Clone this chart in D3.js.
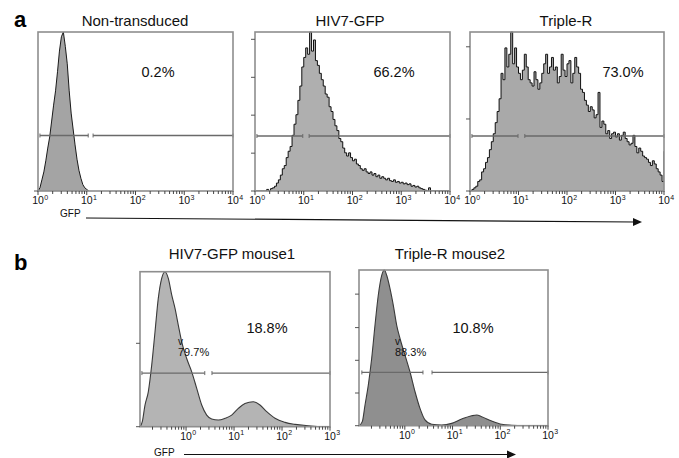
<!DOCTYPE html>
<html><head><meta charset="utf-8">
<script src="https://cdn.jsdelivr.net/npm/d3@7"></script>
<style>body{margin:0;background:#fff}svg{display:block;font-family:"Liberation Sans",Arial,sans-serif}</style>
</head><body><svg id="c" width="679" height="458"></svg>
<script>
// ---------- DATA ----------
const titles = ["Non-transduced", "HIV7-GFP", "Triple-R", "HIV7-GFP mouse1", "Triple-R mouse2"];
const percents = ["0.2%", "66.2%", "73.0%", "18.8%", "10.8%"];
const negPercents = ["79.7%", "88.3%"];
const binWidth = 0.04; // decades per channel (panel a)
const a1Counts = [0,0.02,0.07,0.12,0.19,0.27,0.34,0.44,0.54,0.63,0.75,0.88,0.97,1.0,0.91,0.80,0.63,0.49,0.39,0.29,0.20,0.13,0.08,0.04,0.02,0.01,0];
const a2Counts = [0,0,0,0,0,0, 0.01,0,0.015,0.02,0.03,0.05, 0.07,0.10,0.14,0.16,0.21,0.25, 0.28,0.35,0.42,0.48,0.57,0.66,
  0.78,0.84,0.90,0.86,1.0,0.88, 0.95,0.82,0.79,0.74,0.70,0.66, 0.61,0.59,0.53,0.50,0.45,0.41, 0.38,0.33,0.31,0.27,0.24,0.22,
  0.24,0.21,0.19,0.20,0.17,0.16, 0.14,0.13,0.14,0.12,0.11,0.12, 0.10,0.11,0.09,0.10,0.08,0.09, 0.08,0.07,0.08,0.065,0.06,0.07,
  0.055,0.06,0.05,0.055,0.045,0.05, 0.04,0.045,0.03,0.035,0.025,0.03, 0.02,0.015,0.01,0.005,0,0.02, 0,0,0,0,0,0,0,0,0,0,0];
const a3Counts = [0,0.01,0.02,0.03,0.06,0.07,0.12,0.14,0.18,0.21, 0.26,0.31,0.36,0.43,0.50,0.58,0.74,0.70,0.90,0.78,
  0.86,1.0,0.80,0.90,0.78,0.74,0.70,0.76,0.86,0.78, 0.70,0.68,0.66,0.75,0.70,0.64,0.68,0.74,0.80,0.86,
  0.74,0.78,0.84,0.76,0.78,0.68,0.72,0.86,0.76,0.72, 0.80,0.82,0.68,0.74,0.84,0.78,0.74,0.64,0.62,0.57,
  0.54,0.50,0.53,0.51,0.46,0.48,0.62,0.40,0.44,0.42, 0.36,0.38,0.33,0.36,0.37,0.34,0.36,0.32,0.35,0.37,
  0.33,0.31,0.29,0.30,0.35,0.28,0.24,0.27,0.25,0.22, 0.21,0.20,0.18,0.16,0.19,0.17,0.14,0.12,0.10,0.06, 0.25];
const b1Log = [-0.96,-0.912,-0.856,-0.787,-0.716,-0.647,-0.579,-0.508,-0.439,-0.370,-0.298,-0.23,-0.162,-0.091,0.013,0.118,0.222,0.326,0.43,0.534,0.672,0.812,0.951,1.089,1.228,1.401,1.541,1.681,1.854,2.062,2.271,2.548,2.827,3.0];
const b1Counts = [0,0.032,0.139,0.225,0.397,0.613,0.828,0.957,1.0,0.957,0.849,0.763,0.656,0.548,0.44,0.354,0.247,0.14,0.075,0.05,0.043,0.054,0.075,0.118,0.15,0.161,0.14,0.097,0.054,0.028,0.015,0.006,0,0];
const b2Log = [-0.96,-0.891,-0.834,-0.765,-0.694,-0.625,-0.556,-0.484,-0.43,-0.38,-0.31,-0.241,-0.17,-0.101,0.004,0.109,0.214,0.318,0.423,0.563,0.773,0.982,1.192,1.401,1.506,1.611,1.82,2.03,2.239,2.449,3.0];
const b2Counts = [0,0.026,0.133,0.261,0.433,0.645,0.838,0.966,1.0,0.966,0.88,0.773,0.645,0.56,0.453,0.345,0.218,0.111,0.037,0.009,0.004,0.015,0.043,0.064,0.069,0.058,0.03,0.009,0.003,0,0];
const aDecades = [0, 1, 2, 3, 4];
const bDecades = [0, 1, 2, 3];
const a1YTicks = [0];
const a2YTicks = [0, 0.238, 0.477, 0.715, 0.954];
const a3YTicks = [0, 0.453, 0.907];
const b1YTicks = [0, 0.538];
const b2YTicks = [0, 0.21, 0.42, 0.63, 0.845];
// gates: [left segment, right segment] in log10 units, and gate height
const a1Gate = [[0.04, 1.03], [1.13, 4.0]];
const a2Gate = [[0.04, 0.98], [1.11, 4.0]];
const a3Gate = [[0.04, 0.99], [1.13, 4.0]];
const b1Gate = [[-0.92, 0.39], [0.54, 3.0]];
const b2Gate = [[-0.90, 0.38], [0.57, 3.0]];
const gateLevels = [0.349, 0.346, 0.346, 0.346, 0.342];

// ---------- LAYOUT ----------
const svg = d3.select("#c");
const panels = [
  {x0:38, x1:233, y0:32, y1:191, lo:0, hi:4, log: a1Counts.map((d,i)=>i*binWidth), vals:a1Counts, kind:"lin", fill:"#a4a4a4", stroke:"#1a1a1a", yt:a1YTicks, dec:aDecades, gate:a1Gate, pct:[158,76.5], title:[135,26]},
  {x0:255, x1:450, y0:32, y1:191, lo:0, hi:4, log: a2Counts.map((d,i)=>i*binWidth), vals:a2Counts, kind:"step", fill:"#afafaf", stroke:"#111", yt:a2YTicks, dec:aDecades, gate:a2Gate, pct:[394,76.5], title:[350,26]},
  {x0:470, x1:664, y0:32, y1:191, lo:0, hi:4, log: a3Counts.map((d,i)=>i*binWidth), vals:a3Counts, kind:"step", fill:"#a9a9a9", stroke:"#111", yt:a3YTicks, dec:aDecades, gate:a3Gate, pct:[623,76.5], title:[566,26]},
  {x0:140, x1:330, y0:271.7, y1:426.7, lo:-0.96, hi:3, log:b1Log, vals:b1Counts, kind:"smooth", fill:"#b4b4b4", stroke:"#3a3a3a", yt:b1YTicks, dec:bDecades, gate:b1Gate, pct:[267,332.5], title:[232,258.5], neg:[178,negPercents[0]]},
  {x0:359, x1:548, y0:270, y1:425.7, lo:-0.96, hi:3, log:b2Log, vals:b2Counts, kind:"smooth", fill:"#8f8f8f", stroke:"#3a3a3a", yt:b2YTicks, dec:bDecades, gate:b2Gate, pct:[473,332.5], title:[450,258.5], neg:[395,negPercents[1]]}
];

panels.forEach((p, k) => {
  const x = d3.scaleLog().domain([Math.pow(10,p.lo), Math.pow(10,p.hi)]).range([p.x0, p.x1]);
  const y = d3.scaleLinear().domain([0, 1]).range([p.y1, p.y0]);
  const g = svg.append("g");
  const cid = "clip" + k;
  svg.append("clipPath").attr("id", cid).append("rect")
    .attr("x", p.x0).attr("y", p.y0 - 1).attr("width", p.x1 - p.x0).attr("height", p.y1 - p.y0 + 1);
  const pts = p.log.map((l, i) => [Math.pow(10, l), p.vals[i]]);
  let curve = d3.curveLinear;
  if (p.kind === "step") { curve = d3.curveStepAfter; pts.push([Math.pow(10, p.hi + binWidth), p.vals[p.vals.length-1]]); }
  if (p.kind === "smooth") curve = d3.curveMonotoneX;
  const area = d3.area().x(d => x(d[0])).y0(y(0)).y1(d => y(d[1])).curve(curve);
  const line = d3.line().x(d => x(d[0])).y(d => y(d[1])).curve(curve);
  const hg = g.append("g").attr("clip-path", `url(#${cid})`);
  hg.append("path").datum(pts).attr("d", area).attr("fill", p.fill);
  hg.append("path").datum(pts).attr("d", line).attr("fill", "none").attr("stroke", p.stroke)
    .attr("stroke-width", p.kind === "smooth" ? 1.1 : 1);

  // gate
  const gy = y(gateLevels[k]);
  p.gate.forEach(seg => {
    const xa = x(Math.pow(10, seg[0])), xb = x(Math.pow(10, seg[1]));
    g.append("line").attr("x1", xa).attr("x2", xb).attr("y1", gy).attr("y2", gy).attr("stroke", "#6a6a6a").attr("stroke-width", 1.3);
    [xa, xb].forEach(xx => g.append("line").attr("x1", xx).attr("x2", xx).attr("y1", gy - 2).attr("y2", gy + 2).attr("stroke", "#6a6a6a").attr("stroke-width", 1));
  });

  // frame
  g.append("rect").attr("x", p.x0).attr("y", p.y0).attr("width", p.x1 - p.x0).attr("height", p.y1 - p.y0)
    .attr("fill", "none").attr("stroke", "#8e8e8e").attr("stroke-width", 1.6);

  // y ticks
  p.yt.forEach(t => g.append("line").attr("x1", p.x0 - 4).attr("x2", p.x0).attr("y1", y(t)).attr("y2", y(t)).attr("stroke", "#555").attr("stroke-width", 1));

  // x ticks (major + minor)
  const minor = [];
  for (let d = Math.floor(p.lo); d < p.hi; d++) for (let m = 2; m <= 9; m++) { const v = m * Math.pow(10, d); if (v >= Math.pow(10,p.lo) && v <= Math.pow(10,p.hi)) minor.push(v); }
  minor.forEach(v => g.append("line").attr("x1", x(v)).attr("x2", x(v)).attr("y1", p.y1).attr("y2", p.y1 + 3).attr("stroke", "#444").attr("stroke-width", 1));
  p.dec.forEach(d => {
    const xx = x(Math.pow(10, d));
    g.append("line").attr("x1", xx).attr("x2", xx).attr("y1", p.y1).attr("y2", p.y1 + 4).attr("stroke", "#444").attr("stroke-width", 1);
    const by = p.y1 + 13;
    g.append("text").attr("x", xx).attr("y", by).attr("text-anchor", "middle").attr("font-size", 10.5).attr("fill", "#111").text("10");
    g.append("text").attr("x", xx + 6.2).attr("y", by - 4.5).attr("font-size", 7).attr("fill", "#111").text(String(d));
  });

  // titles & percent
  g.append("text").attr("x", p.title[0]).attr("y", p.title[1]).attr("text-anchor", "middle").attr("font-size", 15).attr("fill", "#111").text(titles[k]);
  g.append("text").attr("x", p.pct[0]).attr("y", p.pct[1]).attr("text-anchor", "middle").attr("font-size", 14.5).attr("fill", "#111").text(percents[k]);
  if (p.neg) {
    g.append("text").attr("x", p.neg[0]).attr("y", 344.5).attr("font-size", 10).attr("fill", "#111").text("v");
    g.append("text").attr("x", p.neg[0]).attr("y", 355.5).attr("font-size", 11).attr("fill", "#111").text(p.neg[1]);
  }
});

// section letters
svg.append("text").attr("x", 14).attr("y", 26.5).attr("font-size", 22).attr("font-weight", "bold").text("a");
svg.append("text").attr("x", 14).attr("y", 270).attr("font-size", 22).attr("font-weight", "bold").text("b");

// GFP axis labels with arrows
function gfpArrow(tx, ty, xa, ya, xb, yb) {
  svg.append("text").attr("x", tx).attr("y", ty).attr("font-size", 10).attr("fill", "#111").text("GFP");
  svg.append("line").attr("x1", xa).attr("y1", ya).attr("x2", xb - 6).attr("y2", yb).attr("stroke", "#111").attr("stroke-width", 1.2);
  svg.append("path").attr("d", `M${xb},${yb} L${xb - 9},${yb - 4} L${xb - 9},${yb + 4} Z`).attr("fill", "#111");
}
gfpArrow(60, 216.5, 86, 218, 642, 222);
gfpArrow(154, 456, 184, 454.5, 516, 454.5);
</script></body></html>
